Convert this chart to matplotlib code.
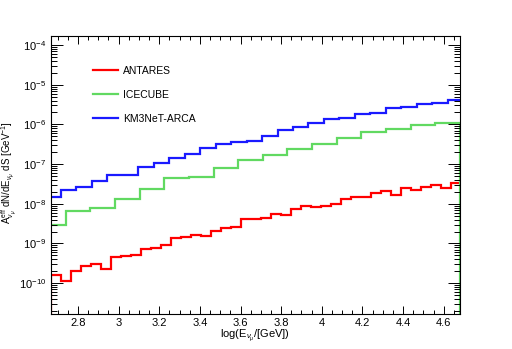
import numpy as np
import matplotlib
matplotlib.use("Agg")
import matplotlib.pyplot as plt
from matplotlib.ticker import MultipleLocator, LogLocator, NullFormatter

plt.rcParams['font.family'] = ['Liberation Sans', 'DejaVu Sans']
plt.rcParams['mathtext.fontset'] = 'custom'
plt.rcParams['mathtext.rm'] = 'Liberation Sans'
plt.rcParams['mathtext.it'] = 'Liberation Sans:italic'
plt.rcParams['mathtext.bf'] = 'Liberation Sans:bold'

# ---- datos ----
# ANTARES: 41 bins
antares_start = 2.666
antares_width = 0.0492
antares = [1.61e-10, 1.16e-10, 2.07e-10, 2.71e-10, 3.10e-10, 2.24e-10, 4.49e-10,
           4.76e-10, 5.22e-10, 7.40e-10, 7.83e-10, 9.16e-10, 1.38e-9, 1.43e-9,
           1.64e-9, 1.55e-9, 2.10e-9, 2.50e-9, 2.65e-9, 4.14e-9, 4.14e-9,
           4.32e-9, 5.53e-9, 5.22e-9, 7.53e-9, 8.81e-9, 8.17e-9, 8.95e-9,
           9.89e-9, 1.34e-8, 1.46e-8, 1.46e-8, 1.87e-8, 2.07e-8, 1.69e-8,
           2.45e-8, 2.26e-8, 2.70e-8, 2.92e-8, 2.55e-8, 3.28e-8]

# ICECUBE: 17 bins
icecube_start = 2.618
icecube_width = 0.1213
icecube = [2.98e-9, 6.70e-9, 7.83e-9, 1.32e-8, 2.37e-8, 4.34e-8, 4.73e-8, 7.98e-8,
           1.25e-7, 1.73e-7, 2.39e-7, 3.23e-7, 4.52e-7, 6.28e-7, 7.62e-7,
           9.82e-7, 1.10e-6]

# KM3NeT-ARCA: 27 bins
arca_start = 2.639
arca_width = 0.0762
arca = [1.51e-8, 2.23e-8, 2.70e-8, 3.69e-8, 5.22e-8, 5.41e-8, 8.30e-8, 1.07e-7,
        1.44e-7, 1.75e-7, 2.50e-7, 3.16e-7, 3.54e-7, 3.93e-7, 5.11e-7, 7.23e-7,
        8.36e-7, 1.10e-6, 1.37e-6, 1.43e-6, 1.79e-6, 1.96e-6, 2.52e-6, 2.70e-6,
        3.24e-6, 3.52e-6, 4.07e-6]

# etiquetas del eje x
xticks = [2.8, 3.0, 3.2, 3.4, 3.6, 3.8, 4.0, 4.2, 4.4, 4.6]
xtick_labels = ["2.8", "3", "3.2", "3.4", "3.6", "3.8", "4", "4.2", "4.4", "4.6"]

def bordes(inicio, ancho, valores):
    return inicio + ancho*np.arange(len(valores)+1)

fig = plt.figure(figsize=(5.12, 3.49), dpi=100)
ax = fig.add_axes([50.5/512, 1-314/349, (460-50.5)/512, (314-36)/349])

ax.stairs(antares, bordes(antares_start, antares_width, antares), color=(1.0, 0.0, 0.0), lw=1.6, label="ANTARES")
ax.stairs(icecube, bordes(icecube_start, icecube_width, icecube), color=(0.38, 0.85, 0.38), lw=1.6, label="ICECUBE")
ax.stairs(arca, bordes(arca_start, arca_width, arca), color=(0.1, 0.1, 1.0), lw=1.6, label="KM3NeT-ARCA")

ax.set_yscale('log')
ax.set_xlim(2.665, 4.68)
ax.set_ylim(10**-10.776, 10**-3.773)

ax.set_xticks(xticks)
ax.set_xticklabels(xtick_labels)
ax.xaxis.set_minor_locator(MultipleLocator(0.05))
ax.yaxis.set_major_locator(LogLocator(base=10, numticks=20))
ax.yaxis.set_minor_locator(LogLocator(base=10, subs=np.arange(2, 10), numticks=50))
ax.yaxis.set_minor_formatter(NullFormatter())

ax.tick_params(axis='both', which='both', direction='in', top=True, right=True, width=0.7, labelsize=8)
ax.tick_params(axis='x', which='major', length=6, pad=3)
ax.tick_params(axis='x', which='minor', length=3)
ax.tick_params(axis='y', which='major', length=8.6, pad=3)
ax.tick_params(axis='y', which='minor', length=4.3)
for s in ax.spines.values():
    s.set_linewidth(0.8)

ax.set_xlabel(r"log(E$_{\nu_{\mu}}$/[GeV])", fontsize=8, labelpad=0)
ax.set_ylabel(r"A$^{\rm eff}_{\nu_{\mu}}$ dN/dE$_{\nu_{\mu}}$ dS [GeV$^{-1}$]", fontsize=7)
ax.yaxis.set_label_coords(-0.078, 0.51)

ax.legend(loc='upper left', bbox_to_anchor=(93/512, 1-66/349), bbox_transform=fig.transFigure,
          frameon=False, fontsize=7.5, handlelength=2.4, handletextpad=0.5,
          labelspacing=1.35, borderpad=0, borderaxespad=0)

fig.savefig("out.png", dpi=100)
